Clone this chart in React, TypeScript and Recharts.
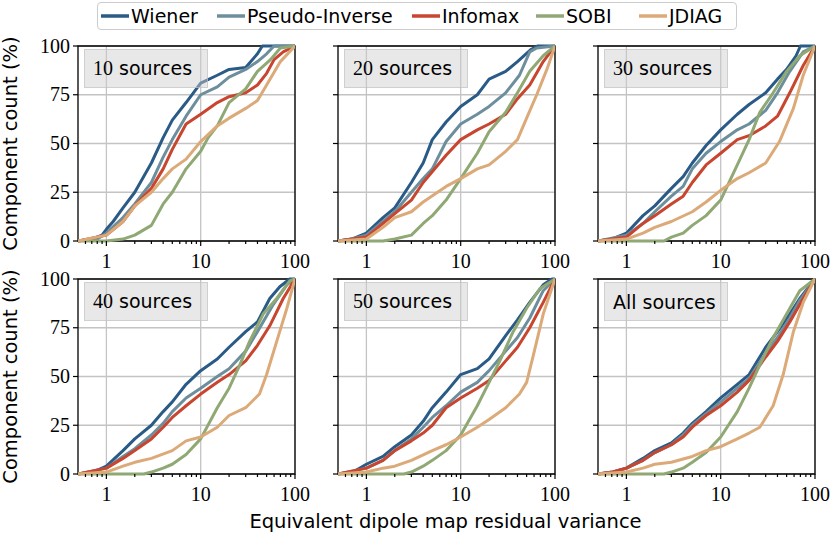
import React from "react";
import { CartesianGrid, Line, LineChart, ReferenceArea, XAxis, YAxis } from "recharts";

type Pt = [number, number];

const methodNames = ["Wiener", "Pseudo-Inverse", "Infomax", "SOBI", "JDIAG"];
const methodColors = ["#2a5b87", "#6d8f9d", "#c8452f", "#8fa874", "#dcaa78"];
const panelTitles = ["10", "20", "30", "40", "50", "All"];

const xMajorTicks = [1, 10, 100];
const xMinorTicks = [0.6, 0.7, 0.8, 0.9, 2, 3, 4, 5, 6, 7, 8, 9, 20, 30, 40, 50, 60, 70, 80, 90];
const yTicks = [0, 25, 50, 75, 100];

const wiener10: Pt[] = [[0.5, 0], [0.7, 1], [0.9, 3], [1, 6], [1.18, 10], [1.5, 17], [2, 25], [3, 40], [4, 53], [5, 62], [7, 71], [10, 81], [15, 85], [20, 88], [30, 89], [40, 96], [45, 100], [100, 100]];
const pinv10: Pt[] = [[0.5, 0], [0.8, 1], [1, 4], [1.5, 12], [2, 19], [3, 30], [4, 43], [5, 52], [7, 64], [10, 75], [15, 79], [20, 84], [30, 88], [40, 92], [50, 96], [60, 100], [100, 100]];
const infomax10: Pt[] = [[0.5, 0], [1, 3], [1.5, 10], [2, 18], [3, 27], [4, 37], [5, 47], [7, 60], [10, 65], [15, 71], [20, 74], [30, 76], [40, 80], [50, 86], [60, 93], [75, 97], [100, 100]];
const sobi10: Pt[] = [[0.5, 0], [1, 0], [1.5, 1], [2, 3], [3, 8], [4, 19], [5, 25], [7, 37], [10, 46], [12, 53], [15, 59], [20, 71], [30, 78], [40, 87], [55, 93], [70, 99], [100, 100]];
const jdiag10: Pt[] = [[0.5, 0], [1, 3], [1.5, 10], [2, 18], [3, 25], [4, 32], [5, 37], [7, 42], [10, 51], [15, 59], [20, 63], [30, 68], [40, 72], [50, 80], [70, 92], [100, 100]];

const wiener20: Pt[] = [[0.5, 0], [0.7, 1], [1, 4], [1.5, 12], [2, 17], [3, 30], [4, 40], [5, 52], [7, 61], [10, 69], [15, 75], [20, 83], [30, 87], [40, 92], [55, 98], [65, 100], [100, 100]];
const pinv20: Pt[] = [[0.5, 0], [0.7, 1], [1, 3], [1.5, 10], [2, 15], [3, 25], [4, 32], [5, 37], [7, 51], [10, 60], [15, 65], [20, 69], [30, 76], [42, 85], [54, 97], [64, 99], [100, 100]];
const infomax20: Pt[] = [[0.5, 0], [1, 2], [1.5, 9], [2, 14], [3, 21], [4, 30], [7, 44], [10, 52], [15, 57], [20, 60], [30, 65], [40, 73], [54, 80], [75, 92], [100, 100]];
const sobi20: Pt[] = [[0.5, 0], [1.5, 0], [2, 1], [3, 3], [4, 9], [5, 13], [7, 21], [10, 32], [15, 45], [20, 56], [30, 66], [40, 76], [54, 87], [75, 95], [100, 100]];
const jdiag20: Pt[] = [[0.5, 0], [1, 1], [1.5, 7], [2, 12], [3, 15], [4, 20], [7, 28], [10, 32], [15, 37], [20, 39], [30, 46], [40, 52], [50, 63], [64, 75], [82, 88], [100, 100]];

const wiener30: Pt[] = [[0.5, 0], [0.7, 1], [1, 4], [1.5, 13], [2, 18], [3, 27], [4, 33], [5, 40], [7, 49], [10, 57], [15, 65], [20, 70], [30, 76], [40, 83], [50, 88], [63, 95], [70, 100], [100, 100]];
const pinv30: Pt[] = [[0.5, 0], [1, 3], [1.5, 9], [2, 15], [3, 23], [4, 28], [5, 37], [7, 45], [10, 51], [15, 57], [20, 60], [30, 67], [40, 76], [54, 87], [75, 97], [100, 100]];
const infomax30: Pt[] = [[0.5, 0], [1, 2], [1.5, 9], [2, 13], [3, 19], [4, 23], [5, 30], [7, 39], [10, 45], [15, 52], [20, 54], [30, 59], [40, 64], [54, 76], [75, 90], [100, 100]];
const sobi30: Pt[] = [[0.5, 0], [2.5, 0], [3, 2], [4, 4], [5, 8], [7, 13], [10, 21], [15, 39], [20, 52], [26, 66], [36, 76], [50, 87], [69, 95], [100, 100]];
const jdiag30: Pt[] = [[0.5, 0], [1, 1], [1.5, 4], [2, 7], [3, 10], [5, 15], [7, 20], [10, 26], [15, 32], [20, 35], [30, 40], [42, 51], [59, 68], [75, 85], [100, 100]];

const wiener40: Pt[] = [[0.5, 0], [0.72, 1], [1, 4], [1.5, 12], [2, 18], [3, 25], [4, 32], [5, 37], [7, 46], [10, 53], [15, 59], [20, 65], [30, 73], [40, 78], [54, 90], [69, 96], [88, 100], [100, 100]];
const pinv40: Pt[] = [[0.5, 0], [1, 3], [1.5, 9], [2, 13], [3, 20], [4, 26], [5, 32], [7, 39], [10, 44], [15, 50], [20, 54], [30, 63], [40, 73], [59, 87], [82, 97], [100, 100]];
const infomax40: Pt[] = [[0.5, 0], [1, 3], [1.5, 8], [2, 12], [3, 18], [4, 24], [5, 29], [7, 35], [10, 41], [15, 47], [20, 51], [30, 58], [40, 66], [54, 76], [75, 90], [100, 100]];
const sobi40: Pt[] = [[0.5, 0], [2.5, 0], [3, 1], [4, 3], [5, 5], [7, 10], [10, 18], [15, 34], [20, 44], [26, 56], [33, 68], [46, 82], [64, 90], [88, 99], [100, 100]];
const jdiag40: Pt[] = [[0.5, 0], [1, 1], [1.5, 4], [2, 6], [3, 8], [5, 12], [7, 17], [10, 19], [15, 24], [20, 30], [30, 34], [42, 41], [50, 51], [64, 68], [82, 85], [100, 100]];

const wiener50: Pt[] = [[0.5, 0], [0.72, 1], [1, 5], [1.5, 9], [2, 14], [3, 20], [4, 27], [5, 34], [7, 42], [10, 51], [15, 54], [20, 59], [30, 71], [40, 79], [54, 88], [75, 97], [93, 100], [100, 100]];
const pinv50: Pt[] = [[0.5, 0], [1, 3], [1.5, 7], [2, 12], [3, 18], [4, 24], [5, 29], [7, 35], [10, 42], [15, 47], [20, 53], [30, 63], [40, 70], [54, 80], [75, 94], [100, 100]];
const infomax50: Pt[] = [[0.5, 0], [1, 3], [1.5, 7], [2, 12], [3, 17], [4, 21], [5, 25], [7, 34], [10, 39], [15, 44], [20, 48], [30, 58], [40, 65], [54, 75], [75, 88], [100, 100]];
const sobi50: Pt[] = [[0.5, 0], [2.5, 0], [3, 1], [4, 4], [5, 7], [7, 12], [10, 20], [15, 35], [20, 47], [26, 58], [36, 73], [50, 85], [69, 95], [100, 100]];
const jdiag50: Pt[] = [[0.5, 0], [1, 1], [1.5, 3], [2, 4], [3, 7], [5, 12], [7, 15], [10, 19], [15, 24], [20, 28], [30, 34], [42, 41], [50, 47], [59, 61], [75, 82], [100, 100]];

const wienerAll: Pt[] = [[0.5, 0], [0.72, 1], [1, 3], [1.5, 8], [2, 12], [3, 16], [4, 21], [5, 26], [7, 32], [10, 39], [15, 46], [20, 51], [30, 65], [40, 73], [54, 82], [69, 90], [100, 100]];
const pinvAll: Pt[] = [[0.5, 0], [0.72, 1], [1, 3], [1.5, 7], [2, 11], [3, 15], [4, 20], [5, 25], [7, 31], [10, 37], [15, 44], [20, 49], [30, 62], [40, 70], [54, 80], [69, 89], [100, 100]];
const infomaxAll: Pt[] = [[0.5, 0], [0.72, 1], [1, 3], [1.5, 7], [2, 11], [3, 15], [4, 19], [5, 24], [7, 30], [10, 35], [15, 42], [20, 48], [30, 60], [40, 68], [54, 78], [75, 90], [100, 100]];
const sobiAll: Pt[] = [[0.5, 0], [2.5, 0], [3, 1], [4, 3], [5, 6], [7, 11], [10, 19], [15, 32], [20, 44], [26, 56], [36, 70], [50, 82], [69, 94], [100, 100]];
const jdiagAll: Pt[] = [[0.5, 0], [1, 1], [1.5, 3], [2, 5], [3, 6], [5, 9], [7, 12], [10, 14], [15, 18], [20, 21], [26, 24], [36, 35], [46, 51], [59, 73], [75, 88], [100, 100]];

const panelSeries: Pt[][][] = [
  [wiener10, pinv10, infomax10, sobi10, jdiag10],
  [wiener20, pinv20, infomax20, sobi20, jdiag20],
  [wiener30, pinv30, infomax30, sobi30, jdiag30],
  [wiener40, pinv40, infomax40, sobi40, jdiag40],
  [wiener50, pinv50, infomax50, sobi50, jdiag50],
  [wienerAll, pinvAll, infomaxAll, sobiAll, jdiagAll],
];

const SANS = "'DejaVu Sans', sans-serif";
const SERIF = "'Liberation Serif', serif";

const PLOT_W = 217;
const PLOT_H = 195;
const COL_LEFT = [78, 338, 598];
const ROW_TOP = [46, 279];
const Y_AXIS_W = 50;
const X_AXIS_H = 35;
const M_TOP = 14;
const M_RIGHT = 20;

function XTick(props: any) {
  const { x, y, payload } = props;
  const major = xMajorTicks.includes(payload.value);
  return (
    <g>
      <line x1={x} x2={x} y1={y} y2={y + (major ? 5 : 3)} stroke="#000" strokeWidth={1.2} />
      {major && (
        <text x={x} y={y + 27} textAnchor="middle" fontFamily={SERIF} fontSize={20} fill="#000">
          {payload.value}
        </text>
      )}
    </g>
  );
}

function YTick(props: any) {
  const { x, y, payload, showLabel } = props;
  return (
    <g>
      <line x1={x - 5} x2={x} y1={y} y2={y} stroke="#000" strokeWidth={1.2} />
      {showLabel && (
        <text x={x - 8} y={y + 6.5} textAnchor="end" fontFamily={SERIF} fontSize={20} fill="#000">
          {payload.value}
        </text>
      )}
    </g>
  );
}

function Panel({ index }: { index: number }) {
  const col = index % 3;
  const row = Math.floor(index / 3);
  const left = COL_LEFT[col];
  const top = ROW_TOP[row];
  const series = panelSeries[index];
  const title = panelTitles[index];

  return (
    <div style={{ position: "absolute", left: left - Y_AXIS_W, top: top - M_TOP }}>
      <LineChart
        width={Y_AXIS_W + PLOT_W + M_RIGHT}
        height={M_TOP + PLOT_H + X_AXIS_H}
        margin={{ top: M_TOP, right: M_RIGHT, bottom: 0, left: 0 }}
      >
        <CartesianGrid stroke="#c4c4c4" strokeWidth={1.3} verticalValues={xMajorTicks} />
        <XAxis
          dataKey="x"
          type="number"
          scale="log"
          domain={[0.5, 100]}
          allowDataOverflow
          ticks={[...xMajorTicks, ...xMinorTicks]}
          interval={0}
          tickSize={0}
          tickMargin={0}
          tickLine={false}
          axisLine={false}
          height={X_AXIS_H}
          tick={(p: any) => <XTick {...p} />}
        />
        <YAxis
          dataKey="y"
          type="number"
          domain={[0, 100]}
          ticks={yTicks}
          interval={0}
          tickSize={0}
          tickMargin={0}
          tickLine={false}
          axisLine={false}
          width={Y_AXIS_W}
          tick={(p: any) => <YTick {...p} showLabel={col === 0} />}
        />
        {series.map((pts, i) => (
          <Line
            key={methodNames[i]}
            data={pts.map(([x, y]) => ({ x, y }))}
            dataKey="y"
            type="linear"
            stroke={methodColors[i]}
            strokeWidth={3}
            strokeLinejoin="round"
            dot={false}
            activeDot={false}
            isAnimationActive={false}
          />
        ))}
        <ReferenceArea x1={0.5} x2={100} y1={0} y2={100} fill="none" stroke="#000" strokeWidth={1.3} />
      </LineChart>
      <div
        style={{
          position: "absolute",
          left: Y_AXIS_W + 6,
          top: M_TOP + 3,
          height: 37,
          minWidth: 106,
          padding: "0 8px",
          background: "rgba(205,205,205,0.45)",
          border: "1px solid rgba(190,190,190,0.6)",
          display: "flex",
          alignItems: "center",
          fontSize: 19,
          fontFamily: SANS,
          color: "#000",
          whiteSpace: "nowrap",
        }}
      >
        {title === "All" ? (
          <span>All sources</span>
        ) : (
          <span>
            <span style={{ fontFamily: SERIF, fontSize: 20 }}>{title}</span> sources
          </span>
        )}
      </div>
    </div>
  );
}

const legendLineLeft = [3, 119, 314, 438, 541];

function Legend() {
  return (
    <div
      style={{
        position: "absolute",
        left: 97,
        top: 2,
        width: 638,
        height: 26,
        border: "1px solid #cccccc",
        borderRadius: 4,
        background: "#fff",
        fontFamily: SANS,
        fontSize: 19,
      }}
    >
      {methodNames.map((name, i) => (
        <div
          key={name}
          style={{ position: "absolute", left: legendLineLeft[i], top: 0, height: 26, display: "flex", alignItems: "center" }}
        >
          <svg width={28} height={6} style={{ display: "block" }}>
            <line x1={0} x2={28} y1={3} y2={3} stroke={methodColors[i]} strokeWidth={3.5} />
          </svg>
          <span style={{ marginLeft: 2, lineHeight: "26px" }}>{name}</span>
        </div>
      ))}
    </div>
  );
}

export default function App() {
  return (
    <div style={{ position: "absolute", left: 0, top: 0, width: 830, height: 537, background: "#fff", overflow: "hidden" }}>
      <Legend />
      {panelTitles.map((_, i) => (
        <Panel key={i} index={i} />
      ))}
      <svg width={830} height={537} style={{ position: "absolute", left: 0, top: 0, pointerEvents: "none" }}>
        {ROW_TOP.map((t) => (
          <text
            key={t}
            x={17}
            y={t + PLOT_H / 2}
            transform={`rotate(-90 17 ${t + PLOT_H / 2})`}
            textAnchor="middle"
            fontFamily={SANS}
            fontSize={19.5}
            fill="#000"
          >
            Component count (%)
          </text>
        ))}
        <text x={445.5} y={528} textAnchor="middle" fontFamily={SANS} fontSize={19.5} fill="#000">
          Equivalent dipole map residual variance
        </text>
      </svg>
    </div>
  );
}
